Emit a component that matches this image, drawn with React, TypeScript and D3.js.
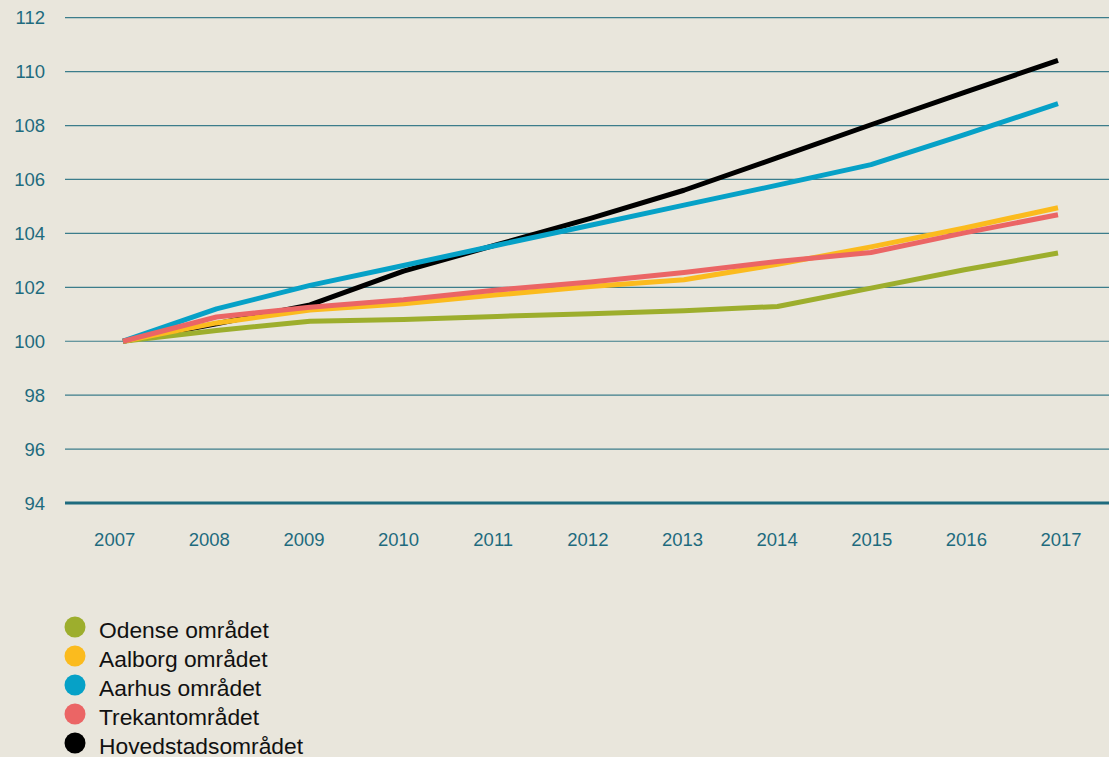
import { useMemo } from "react";
import * as d3 from "d3";

const years = [2007, 2008, 2009, 2010, 2011, 2012, 2013, 2014, 2015, 2016, 2017];
const yTicks = [94, 96, 98, 100, 102, 104, 106, 108, 110, 112];

const odense = [100, 100.4, 100.74, 100.81, 100.92, 101.02, 101.13, 101.29, 101.97, 102.65, 103.27];
const aalborg = [100, 100.68, 101.16, 101.39, 101.72, 102.03, 102.28, 102.85, 103.5, 104.2, 104.95];
const aarhus = [100, 101.2, 102.07, 102.81, 103.56, 104.3, 105.05, 105.79, 106.55, 107.66, 108.81];
const trekant = [100, 100.9, 101.26, 101.54, 101.9, 102.2, 102.55, 102.96, 103.29, 104.02, 104.69];
const hovedstad = [100, 100.65, 101.35, 102.6, 103.58, 104.56, 105.6, 106.81, 108.03, 109.23, 110.42];

const seriesNames = ["Odense området", "Aalborg området", "Aarhus området", "Trekantområdet", "Hovedstadsområdet"];
const seriesColors = ["#9dae2d", "#fbbb1e", "#06a1c7", "#eb6565", "#000000"];
const seriesValues = [odense, aalborg, aarhus, trekant, hovedstad];
// draw order: black under the others at the start
const drawOrder = [4, 0, 1, 2, 3];

const W = 1109;
const H = 757;
const BG = "#e9e6dc";
const TEAL = "#1e6b7e";
const FONT = "'Liberation Sans', Arial, Helvetica, sans-serif";

export default function App() {
  const y = useMemo(() => d3.scaleLinear().domain([94, 112]).range([503, 17.7]), []);
  // data points vs. axis labels sit slightly differently in the original
  const xLine = useMemo(() => d3.scaleLinear().domain([2007, 2017]).range([123, 1058]), []);
  const xLabel = useMemo(() => d3.scaleLinear().domain([2007, 2017]).range([114.7, 1061]), []);

  const line = d3
    .line<number>()
    .x((_, i) => xLine(years[i]))
    .y((d) => y(d));

  return (
    <div style={{ position: "absolute", top: 0, left: 0, width: W, height: H, background: BG }}>
      <svg width={W} height={H} style={{ display: "block" }}>
        <rect width={W} height={H} fill={BG} />
        <g>
          {yTicks.map((t) => (
            <g key={t}>
              <line
                x1={65}
                x2={W}
                y1={y(t)}
                y2={y(t)}
                stroke={TEAL}
                strokeWidth={t === 94 ? 3 : 1.2}
                opacity={t === 94 ? 1 : 0.85}
              />
              <text
                x={45}
                y={y(t)}
                dy="0.36em"
                textAnchor="end"
                fontFamily={FONT}
                fontSize={18.5}
                fill={TEAL}
              >
                {t}
              </text>
            </g>
          ))}
        </g>
        <g>
          {years.map((yr) => (
            <text
              key={yr}
              x={xLabel(yr)}
              y={539}
              dy="0.36em"
              textAnchor="middle"
              fontFamily={FONT}
              fontSize={18.5}
              fill={TEAL}
            >
              {yr}
            </text>
          ))}
        </g>
        <g fill="none">
          {drawOrder.map((i) => (
            <path
              key={seriesNames[i]}
              d={line(seriesValues[i]) || ""}
              stroke={seriesColors[i]}
              strokeWidth={5}
              strokeLinejoin="round"
            />
          ))}
        </g>
        <g>
          {seriesNames.map((name, i) => (
            <g key={name} transform={`translate(0, ${627 + i * 29})`}>
              <circle cx={75} cy={0} r={10.5} fill={seriesColors[i]} />
              <text x={99} y={3} dy="0.36em" fontFamily={FONT} fontSize={22.8} fill="#111">
                {name}
              </text>
            </g>
          ))}
        </g>
      </svg>
    </div>
  );
}
